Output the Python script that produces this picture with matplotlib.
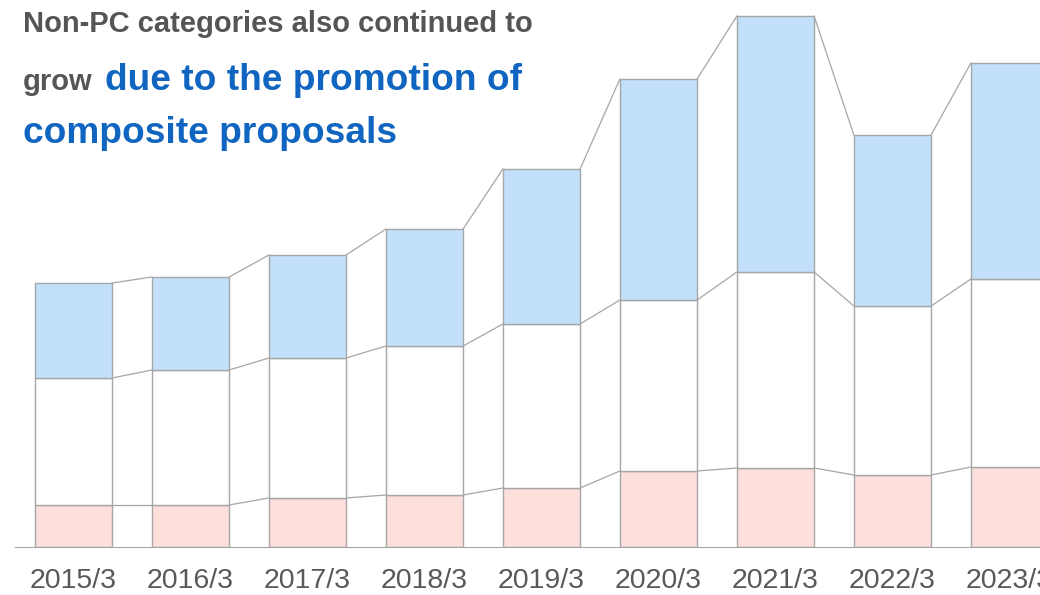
import matplotlib.pyplot as plt
import numpy as np

plt.rcParams['font.family'] = ['Liberation Sans', 'DejaVu Sans']

years = ['2015/3', '2016/3', '2017/3', '2018/3', '2019/3',
         '2020/3', '2021/3', '2022/3', '2023/3']
pc = [42, 42, 49, 52, 59, 76, 79, 72, 80]
other = [127, 135, 140, 149, 164, 171, 196, 169, 188]
non_pc = [95, 93, 103, 117, 155, 221, 256, 171, 216]

edge = '#A6A6A6'
colors = ['#FDE0DC', '#FFFFFF', '#C2E0FA']
w = 0.66

fig = plt.figure(figsize=(10.4, 5.95), dpi=100)
ax = fig.add_axes([0, 48 / 595, 1, 547 / 595])

x = np.arange(len(years))
bottom = np.zeros(len(years))
for vals, c in zip([pc, other, non_pc], colors):
    vals = np.array(vals)
    ax.bar(x, vals, w, bottom=bottom, color=c, edgecolor=edge, linewidth=1, zorder=2)
    top = bottom + vals
    # thin connectors between neighbouring bars
    for i in range(len(x) - 1):
        ax.plot([x[i] + w / 2, x[i + 1] - w / 2], [top[i], top[i + 1]],
                color=edge, lw=0.9, zorder=1)
    bottom = top

ax.set_xlim(-73.5 / 117, (1040 - 73.5) / 117)
ax.set_ylim(0, 547)
for s in ['top', 'right', 'left']:
    ax.spines[s].set_visible(False)
ax.spines['bottom'].set_color(edge)
ax.spines['bottom'].set_bounds(-58.5 / 117, 10)
ax.set_yticks([])
ax.set_xticks(x)
ax.set_xticklabels(years, fontsize=20.5, color='#595959')
ax.tick_params(axis='x', length=0, pad=15)

fig.text(23 / 1040, 1 - 32 / 595, 'Non-PC categories also continued to',
         fontsize=21, fontweight='bold', color='#555555')
fig.text(23 / 1040, 1 - 90 / 595, 'grow', fontsize=21, fontweight='bold',
         color='#555555')
fig.text(105 / 1040, 1 - 90 / 595, 'due to the promotion of', fontsize=26.7,
         fontweight='bold', color='#0F65BF')
fig.text(23 / 1040, 1 - 143 / 595, 'composite proposals', fontsize=26.7,
         fontweight='bold', color='#0F65BF')

fig.savefig('out.png', dpi=100)
